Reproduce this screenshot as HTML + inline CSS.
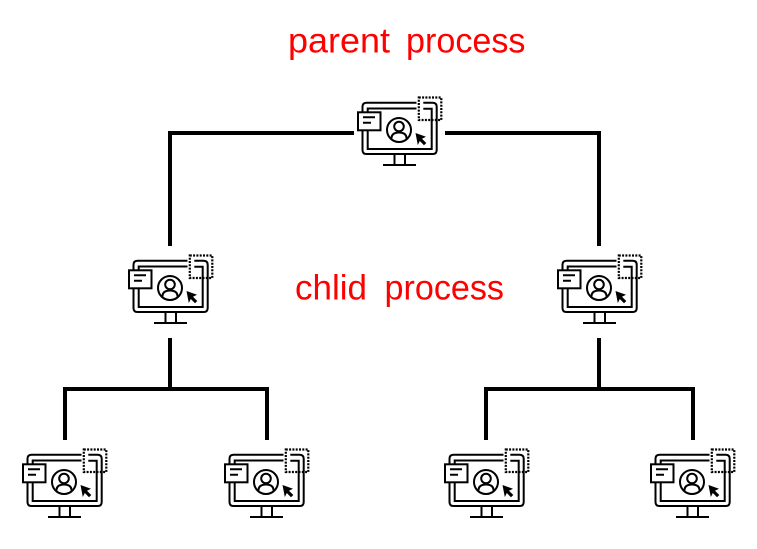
<!DOCTYPE html>
<html>
<head>
<meta charset="utf-8">
<style>
html,body{margin:0;padding:0;background:#fff}
svg{display:block}
text{font-family:"Liberation Sans",sans-serif;fill:#ff0000;font-size:35.500px}
</style>
</head>
<body>
<svg width="757" height="549" viewBox="0 0 757 549" xmlns="http://www.w3.org/2000/svg">
<defs>
<g id="pc" fill="none" stroke="#000" stroke-width="2">
  <path d="M416.500 102.700H366.500Q362.500 102.700 362.500 106.700V112M416.500 108.500H367.700V112"/>
  <path d="M362.500 130V150Q362.500 154 366.500 154H432.700Q436.700 154 436.700 150V106.700Q436.700 102.700 432.700 102.700H423.300"/>
  <path d="M367.700 130V149H431.700V108.700H423.300"/>
  <rect x="418.800" y="97.500" width="22.500" height="22.500" stroke-width="2.200" stroke-dasharray="2 1.300"/>
  <rect x="358" y="112.300" width="22.500" height="18" fill="#fff"/>
  <path d="M363 117.300H375M363 122.700H371"/>
  <circle cx="399" cy="130" r="12"/>
  <circle cx="399" cy="126.500" r="4.800"/>
  <path d="M391.500 138.500Q391.500 132.500 399 132.500Q406.500 132.500 406.500 138.500"/>
  <path d="M415.500 133L426 136.800L422 138.800L426.300 143L424 145.300L419.800 141L417.800 145Z" fill="#000" stroke="none"/>
  <path d="M394.500 154V164.500M405 154V164.500"/>
  <path d="M383 165H416"/>
</g>
</defs>
<rect width="757" height="549" fill="#fff"/>
<text x="288" y="52.500" textLength="102" lengthAdjust="spacingAndGlyphs">parent</text>
<text x="406" y="52.500" textLength="119.500" lengthAdjust="spacingAndGlyphs">process</text>
<text x="295" y="299.500" textLength="72" lengthAdjust="spacingAndGlyphs">chlid</text>
<text x="384.500" y="299.500" textLength="119.500" lengthAdjust="spacingAndGlyphs">process</text>
<g fill="none" stroke="#000" stroke-width="4">
  <path d="M170 246V133H354"/>
  <path d="M445 133H599V246"/>
  <path d="M170 338V389"/>
  <path d="M65 440V389H267V440"/>
  <path d="M599 338V389"/>
  <path d="M486 440V389H693V440"/>
</g>
<use href="#pc"/>
<use href="#pc" x="-229" y="158"/>
<use href="#pc" x="200" y="158"/>
<use href="#pc" x="-335" y="352"/>
<use href="#pc" x="-133" y="352"/>
<use href="#pc" x="87" y="352"/>
<use href="#pc" x="293" y="352"/>
</svg>
</body>
</html>
